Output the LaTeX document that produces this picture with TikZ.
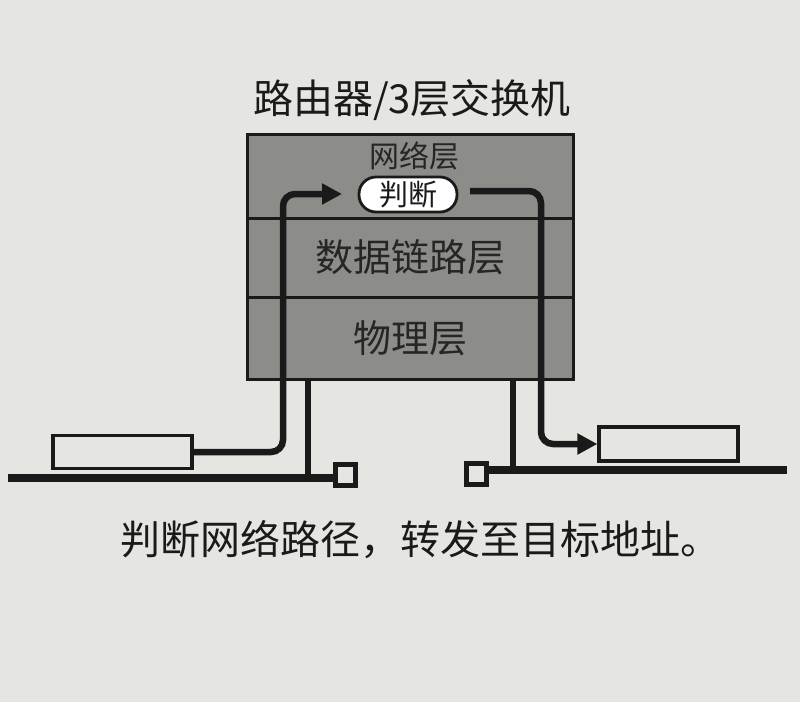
\documentclass[tikz,border=0pt]{standalone}
\usepackage{fontspec}
\newfontfamily\cjk{Noto Sans CJK SC}
\usetikzlibrary{arrows.meta,calc}
\definecolor{paper}{RGB}{229,229,226}
\definecolor{layerfill}{RGB}{140,140,137}
\definecolor{ink}{RGB}{26,26,26}
\definecolor{layertext}{RGB}{38,38,38}
\tikzset{
  layer/.style={draw=ink, line width=3pt, fill=layerfill, minimum width=326pt,
    inner sep=0pt, text=layertext, font=\cjk\fontsize{38}{40}\selectfont},
  pill/.style={draw=ink, line width=2.8pt, fill=white, rounded corners=17pt,
    minimum width=98pt, minimum height=35pt, inner sep=0pt,
    font=\cjk\fontsize{29}{30}\selectfont, text=ink},
  host/.style={draw=ink, line width=3.2pt, fill=paper, minimum width=139pt,
    minimum height=33pt, inner sep=0pt},
  term/.style={draw=ink, line width=5pt, fill=paper, minimum width=20pt,
    minimum height=21pt, inner sep=0pt},
  wire/.style={draw=ink, line width=6.5pt, rounded corners=12pt},
  busline/.style={draw=ink, line width=8.5pt},
  flow/.style={wire, -{Triangle[length=20pt,width=20pt]}},
  caption/.style={text=ink, inner sep=0pt, font=\cjk\fontsize{40}{42}\selectfont},
}
\begin{document}
\begin{tikzpicture}[x=1pt,y=-1pt]
  \fill[paper] (0,0) rectangle (800,702);
  \useasboundingbox (0,0) rectangle (800,702);

  % title and caption
  \node[caption] (title) at (412,100) {路由器/3层交换机};
  \node[caption] (note) at (420,540) {判断网络路径，转发至目标地址。};

  % the three protocol layers of the router
  \node[layer, minimum height=84pt] (net) at (410,176) {};
  \node[layer, minimum height=79pt] (dl) at (410,257.5) {数据链路层};
  \node[layer, minimum height=82pt] (phy) at (410,338) {物理层};
  \node[text=layertext, inner sep=0pt, font=\cjk\fontsize{30}{32}\selectfont]
    (netlabel) at (414,156) {网络层};

  % hosts and cable terminators
  \node[host] (hostL) at (122.5,452) {};
  \node[host, minimum height=34pt] (hostR) at (668.5,444) {};
  \node[term] (termL) at (345.5,475) {};
  \node[term] (termR) at (476,474) {};

  % bus segments
  \coordinate (busLstart) at (8,478);
  \coordinate (busRend) at (787,470);
  \draw[busline] (busLstart) -- (busLstart -| termL.west);
  \draw[busline] (busRend -| termR.east) -- (busRend);

  % router ports down to the buses
  \coordinate (tapL) at (308,478);
  \coordinate (tapR) at (513,470);
  \draw[wire] (phy.south -| tapL) -- (tapL);
  \draw[wire] (phy.south -| tapR) -- (tapR);

  % routing decision
  \node[pill] (judge) at (408,194.5) {判断};

  % packet path: in from the left host, out to the right host
  \coordinate (upL) at (283,194);
  \coordinate (inL) at (342,194);
  \draw[flow] (hostL.east) -| (upL) -- (inL);
  \coordinate (outR) at (470,191);
  \coordinate (downR) at (541,444);
  \draw[flow] (outR) -| (downR) -- (hostR.west);
\end{tikzpicture}
\end{document}
